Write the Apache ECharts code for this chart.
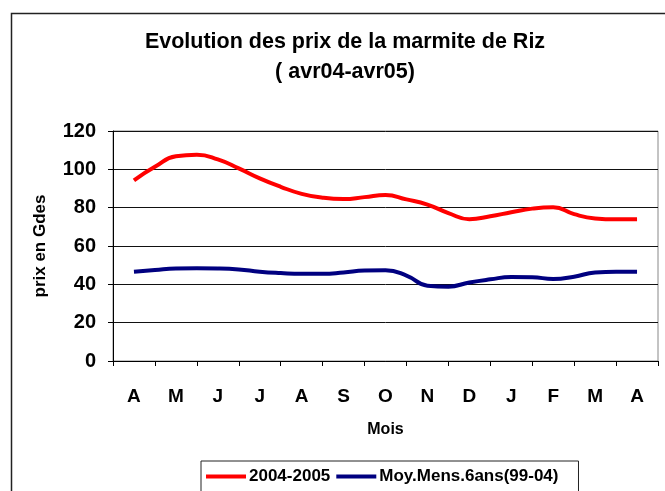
<!DOCTYPE html>
<html>
<head>
<meta charset="utf-8">
<script src="https://cdn.jsdelivr.net/npm/echarts@6/dist/echarts.min.js"></script>
<style>html,body{margin:0;padding:0;background:#fff;}#c{width:665px;height:491px;}</style>
</head>
<body>
<div id="c"></div>
<script>
// Month labels (avr04 - avr05)
var months = ['A', 'M', 'J', 'J', 'A', 'S', 'O', 'N', 'D', 'J', 'F', 'M', 'A'];
// Positions (in months from the first April), half-month steps
var positions = [0, 0.5, 1, 1.5, 2, 2.5, 3, 3.5, 4, 4.5, 5, 5.5, 6, 6.5, 7, 7.5, 8, 8.5, 9, 9.5, 10, 10.5, 11, 11.5, 12];
// 2004-2005 prices (Gdes)
var prix0405 = [94.3, 101.3, 106.8, 107.6, 105.2, 100.5, 95.3, 90.9, 87.2, 85.2, 84.5, 85.5, 86.6, 84.3, 81.6, 77.2, 74.0, 75.5, 77.6, 79.5, 80.2, 76.6, 74.4, 73.9, 73.9];
// Monthly mean over 6 years (99-04)
var moy6ans = [46.6, 47.5, 48.3, 48.4, 48.3, 47.8, 46.6, 45.9, 45.5, 45.5, 46.2, 47.2, 47.3, 44.6, 39.3, 38.8, 41.0, 42.6, 43.8, 43.7, 42.8, 44.0, 46.2, 46.6, 46.6];

function pairs(xs, ys) { return xs.map(function (x, i) { return [x, ys[i]]; }); }

var FONT = "'Liberation Sans', Arial, sans-serif";
var chart = echarts.init(document.getElementById('c'), null, {renderer: 'canvas'});
chart.setOption({
  animation: false,
  backgroundColor: '#fff',
  graphic: [{
    type: 'rect', left: 9, top: 11, silent: true, z: -1,
    shape: {width: 655, height: 490},
    style: {fill: 'none', stroke: '#222', lineWidth: 1.5}
  }],
  title: {
    text: 'Evolution des prix de la marmite de Riz\n( avr04-avr05)',
    left: 345, top: 27, textAlign: 'center', padding: 0,
    textStyle: {fontFamily: FONT, fontSize: 21.5, fontWeight: 'bold', color: '#000', lineHeight: 30}
  },
  legend: {
    bottom: -3, left: 201,
    data: ['2004-2005', 'Moy.Mens.6ans(99-04)'],
    icon: 'rect', itemWidth: 40, itemHeight: 4, itemGap: 6,
    borderColor: '#222', borderWidth: 1, padding: [7, 20, 9, 5],
    textStyle: {fontFamily: FONT, fontSize: 17, fontWeight: 'bold', color: '#000', padding: [0, 0, 0, -2]}
  },
  grid: {left: 113, right: 7, top: 131, bottom: 130, show: true, borderColor: '#888', borderWidth: 1},
  xAxis: [{
    type: 'category', data: months, boundaryGap: true,
    name: 'Mois', nameLocation: 'middle', nameGap: 61,
    nameTextStyle: {fontFamily: FONT, fontSize: 16, fontWeight: 'bold', color: '#000'},
    axisLine: {lineStyle: {color: '#000', width: 1}},
    axisTick: {show: true, length: 5, lineStyle: {color: '#000'}},
    axisLabel: {fontFamily: FONT, fontSize: 19, fontWeight: 'bold', color: '#000', margin: 26},
    splitLine: {show: false}
  }, {
    type: 'value', min: -0.5, max: 12.5, show: false
  }],
  yAxis: {
    type: 'value', min: 0, max: 120, interval: 20,
    name: 'prix en Gdes', nameLocation: 'middle', nameGap: 64, nameRotate: 90,
    nameTextStyle: {fontFamily: FONT, fontSize: 17, fontWeight: 'bold', color: '#000'},
    axisLine: {show: true, onZero: false, lineStyle: {color: '#000', width: 1}},
    axisTick: {show: true, length: 5, lineStyle: {color: '#000'}},
    axisLabel: {fontFamily: FONT, fontSize: 20, fontWeight: 'bold', color: '#000', margin: 17},
    splitLine: {show: true, lineStyle: {color: '#111', width: 1}}
  },
  series: [{
    name: '2004-2005', type: 'line', xAxisIndex: 1, smooth: true, showSymbol: false,
    data: pairs(positions, prix0405), color: '#ff0000',
    lineStyle: {color: '#ff0000', width: 4}
  }, {
    name: 'Moy.Mens.6ans(99-04)', type: 'line', xAxisIndex: 1, smooth: true, showSymbol: false,
    data: pairs(positions, moy6ans), color: '#000080',
    lineStyle: {color: '#000080', width: 4}
  }]
});
</script>
</body>
</html>
